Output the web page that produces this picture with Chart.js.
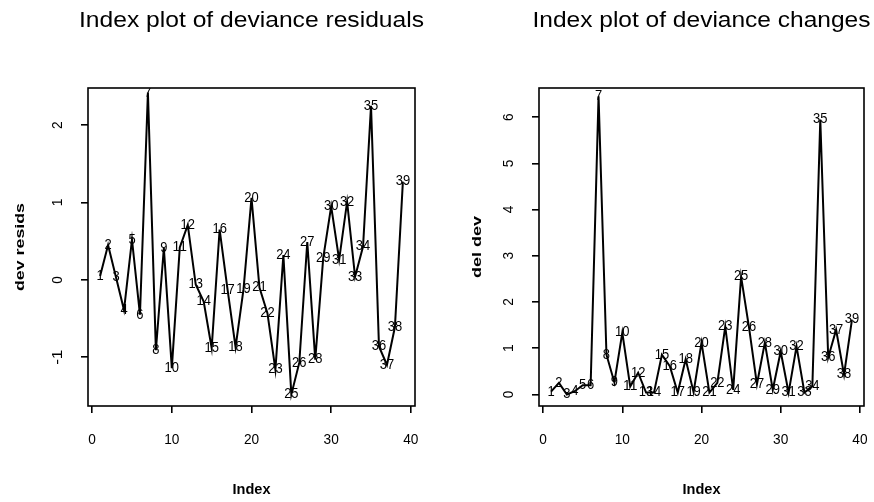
<!DOCTYPE html>
<html>
<head>
<meta charset="utf-8">
<script src="https://cdn.jsdelivr.net/npm/chart.js@4"></script>
<style>
  html, body { margin: 0; padding: 0; background: #fff; }
  #wrap { width: 874px; height: 502px; display: flex; }
  canvas { display: block; }
</style>
</head>
<body>
<div id="wrap">
  <canvas id="ResidChart" width="437" height="502"></canvas>
  <canvas id="ChangeChart" width="437" height="502"></canvas>
</div>
<script>
(function () {
    "use strict";

    // Data
    const obsIndex = [1, 2, 3, 4, 5, 6, 7, 8, 9, 10, 11, 12, 13, 14, 15, 16, 17, 18, 19, 20,
        21, 22, 23, 24, 25, 26, 27, 28, 29, 30, 31, 32, 33, 34, 35, 36, 37, 38, 39];
    const devResids = [0.05, 0.45, 0.03, -0.39, 0.52, -0.45, 2.42, -0.91, 0.41, -1.14,
        0.42, 0.71, -0.06, -0.28, -0.88, 0.65, -0.13, -0.87, -0.12, 1.06,
        -0.1, -0.43, -1.16, 0.32, -1.48, -1.07, 0.49, -1.03, 0.28, 0.95,
        0.26, 1.01, 0.04, 0.43, 2.25, -0.86, -1.1, -0.61, 1.27];
    const delDev = [0.06, 0.25, 0.0, 0.07, 0.2, 0.2, 6.45, 0.86, 0.26, 1.34,
        0.17, 0.47, 0.04, 0.04, 0.86, 0.61, 0.04, 0.76, 0.05, 1.12,
        0.04, 0.25, 1.47, 0.1, 2.55, 1.45, 0.22, 1.12, 0.1, 0.93,
        0.04, 1.04, 0.04, 0.18, 5.95, 0.8, 1.4, 0.43, 1.62];
    const xTicks = [0, 10, 20, 30, 40];
    const residTicks = [-1, 0, 1, 2];
    const changeTicks = [0, 1, 2, 3, 4, 5, 6];

    const ink = "#000";
    const family = "'Liberation Sans', Arial, sans-serif";

    // draw text centred at x,y, squeezed/stretched to a width if asked
    function drawText(ctx, str, x, y, font, width, rot) {
        ctx.save();
        ctx.font = font;
        ctx.fillStyle = ink;
        ctx.textAlign = "center";
        ctx.textBaseline = "middle";
        ctx.translate(x, y);
        if (rot) ctx.rotate(rot);
        if (width) {
            const w = ctx.measureText(str).width;
            ctx.scale(width / w, 1);
        }
        ctx.fillText(str, 0, 0);
        ctx.restore();
    }

    const rPlot = {
        id: "rPlot",
        afterDatasetsDraw(chart, args, o) {
            const ctx = chart.ctx;
            const a = chart.chartArea;
            // point labels
            const meta = chart.getDatasetMeta(0);
            ctx.save();
            ctx.beginPath();
            ctx.rect(a.left, a.top, a.right - a.left, a.bottom - a.top);
            ctx.clip();
            meta.data.forEach(function (pt, i) {
                const s = String(obsIndex[i]);
                drawText(ctx, s, pt.x, pt.y, "14px " + family, s.length * 7.2);
            });
            ctx.restore();
            // box
            ctx.save();
            ctx.strokeStyle = ink;
            ctx.lineWidth = 1.6;
            ctx.strokeRect(a.left, a.top, a.right - a.left, a.bottom - a.top);
            ctx.restore();
        },
        afterDraw(chart, args, o) {
            const ctx = chart.ctx;
            const a = chart.chartArea;
            const xs = chart.scales.x;
            const ys = chart.scales.y;
            const cx = (a.left + a.right) / 2;
            xTicks.forEach(function (v) {
                drawText(ctx, String(v), xs.getPixelForValue(v), a.bottom + 34, "14px " + family, String(v).length * 7.6);
            });
            o.yTicks.forEach(function (v) {
                drawText(ctx, String(v), a.left - 30, ys.getPixelForValue(v), "14px " + family, String(v).length * 7.6, -Math.PI / 2);
            });
            drawText(ctx, o.title, cx, 21, "22px " + family, o.titleWidth);
            drawText(ctx, "Index", cx, 490, "bold 14px " + family, 38);
            drawText(ctx, o.yTitle, o.yTitleX, (a.top + a.bottom) / 2, "bold 13px " + family, o.yTitleWidth, -Math.PI / 2);
        }
    };

    function makeChart(id, values, opt) {
        const el = document.getElementById(id);
        if (el == null) return null;
        return new Chart(el.getContext("2d"), {
            type: "scatter",
            data: {
                datasets: [
                    {
                        data: obsIndex.map(function (x, i) {
                            return { x: x, y: values[i] };
                        }),
                        showLine: true,
                        borderColor: ink,
                        borderWidth: 2,
                        pointRadius: 0,
                        tension: 0,
                    },
                ],
            },
            options: {
                responsive: false,
                animation: false,
                layout: {
                    padding: { left: 0, right: opt.padRight, top: 88, bottom: 0 },
                },
                plugins: {
                    legend: { display: false },
                    tooltip: { enabled: false },
                    rPlot: opt,
                },
                scales: {
                    x: {
                        type: "linear",
                        min: -0.52,
                        max: 40.52,
                        afterBuildTicks: function (s) {
                            s.ticks = xTicks.map(function (v) { return { value: v }; });
                        },
                        afterFit: function (s) { s.height = 96; },
                        ticks: { display: false },
                        border: { display: false },
                        grid: { drawOnChartArea: false, drawTicks: true, tickLength: 7, color: ink, lineWidth: 1.6 },
                    },
                    y: {
                        type: "linear",
                        min: opt.yMin,
                        max: opt.yMax,
                        afterBuildTicks: function (s) {
                            s.ticks = opt.yTicks.map(function (v) { return { value: v }; });
                        },
                        afterFit: function (s) { s.width = opt.left; },
                        ticks: { display: false },
                        border: { display: false },
                        grid: { drawOnChartArea: false, drawTicks: true, tickLength: 7, color: ink, lineWidth: 1.6 },
                    },
                },
            },
            plugins: [rPlot],
        });
    }

    makeChart("ResidChart", devResids, {
        left: 88, padRight: 22, yMin: -1.63, yMax: 2.48, yTicks: residTicks,
        title: "Index plot of deviance residuals", titleWidth: 345,
        yTitle: "dev resids", yTitleX: 20, yTitleWidth: 88,
    });
    makeChart("ChangeChart", delDev, {
        left: 102, padRight: 10, yMin: -0.25, yMax: 6.63, yTicks: changeTicks,
        title: "Index plot of deviance changes", titleWidth: 338,
        yTitle: "del dev", yTitleX: 40, yTitleWidth: 62,
    });
})();
</script>
</body>
</html>
